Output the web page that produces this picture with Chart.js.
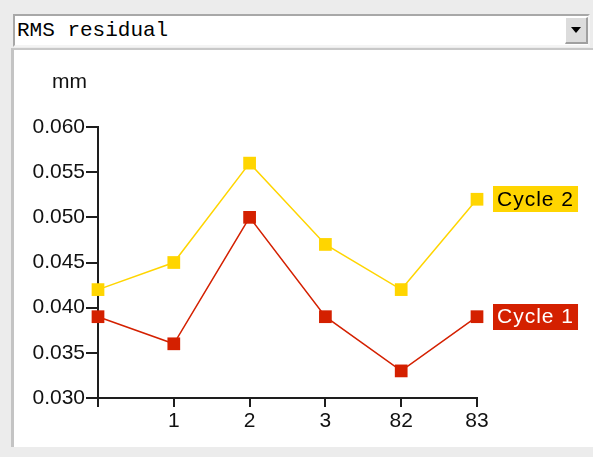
<!DOCTYPE html>
<html lang="en">
  <head>
    <meta charset="UTF-8" />
    <title>RMS residual</title>
    <script src="https://cdn.jsdelivr.net/npm/chart.js"></script>
    <style>
      * {
        margin: 0;
        padding: 0;
        box-sizing: border-box;
      }

      body {
        width: 593px;
        height: 457px;
        background-color: #ececec;
        position: relative;
        overflow: hidden;
      }

      .dropdown {
        position: absolute;
        left: 13px;
        top: 14px;
        width: 577px;
        height: 33px;
        background: #ffffff;
        border-top: 2px solid #a8a8a8;
        border-left: 2px solid #a8a8a8;
        border-right: 2px solid #f4f4f4;
        border-bottom: 2px solid #f4f4f4;
        font-family: "Liberation Mono", monospace;
        font-size: 21px;
        line-height: 29px;
        padding-left: 2px;
        color: #000;
      }

      .dropdown .arrow {
        position: absolute;
        right: 0;
        top: 1px;
        width: 23px;
        height: 27px;
        background: #dcdcdc;
        border-right: 2px solid #a0a0a0;
        border-bottom: 2px solid #a0a0a0;
        border-top: 1px solid #fff;
        border-left: 1px solid #fff;
      }

      .dropdown .arrow::after {
        content: "";
        position: absolute;
        left: 5px;
        top: 9px;
        border-left: 5px solid transparent;
        border-right: 5px solid transparent;
        border-top: 6px solid #000;
      }

      .panel {
        position: absolute;
        left: 11px;
        top: 48px;
        width: 582px;
        height: 399px;
        background: #ffffff;
        border-left: 3px solid #c4c4c4;
        border-top: 2px solid #c8c8c8;
      }

      #chart {
        position: absolute;
        left: 0;
        top: 0;
      }
    </style>
  </head>
  <body>
    <div class="dropdown">RMS residual<div class="arrow"></div></div>
    <div class="panel"></div>
    <canvas id="chart" width="593" height="457"></canvas>

    <script>
      const categories = ["", "1", "2", "3", "82", "83"];
      const cycle1 = [0.039, 0.036, 0.05, 0.039, 0.033, 0.039];
      const cycle2 = [0.042, 0.045, 0.056, 0.047, 0.042, 0.052];
      const yTicks = { min: 0.03, max: 0.06, step: 0.005 };

      const RED = "#d42000";
      const YELLOW = "#ffd500";
      const AXIS = "#1e1e1e";
      const FONT = "'Liberation Sans', Arial, sans-serif";

      // series tags at the end of each line + the "mm" unit label
      const tagPlugin = {
        id: "tags",
        afterDatasetsDraw(chart) {
          const ctx = chart.ctx;
          const area = chart.chartArea;
          ctx.save();
          ctx.font = "21px " + FONT;
          ctx.textBaseline = "middle";
          ctx.fillStyle = "#111";
          ctx.textAlign = "right";
          ctx.fillText("mm", 87, area.top - 45);

          ctx.textAlign = "left";
          ctx.letterSpacing = "1px";
          chart.data.datasets.forEach((ds, i) => {
            const meta = chart.getDatasetMeta(i);
            const pt = meta.data[meta.data.length - 1];
            const x = area.right + 16;
            const h = 26;
            const w = ctx.measureText(ds.label).width + 8;
            ctx.fillStyle = ds.tagColor;
            ctx.fillRect(x, Math.round(pt.y - h / 2), w, h);
            ctx.fillStyle = ds.tagText;
            ctx.fillText(ds.label, x + 4, pt.y + 1);
          });
          ctx.restore();
        },
      };

      new Chart(document.getElementById("chart"), {
        type: "line",
        data: {
          labels: categories,
          datasets: [
            {
              label: "Cycle 2",
              data: cycle2,
              borderColor: YELLOW,
              backgroundColor: YELLOW,
              tagColor: YELLOW,
              tagText: "#000",
              borderWidth: 1.5,
              pointStyle: "rect",
              pointRadius: 9,
              pointBorderWidth: 0,
              tension: 0,
            },
            {
              label: "Cycle 1",
              data: cycle1,
              borderColor: RED,
              backgroundColor: RED,
              tagColor: RED,
              tagText: "#fff",
              borderWidth: 1.5,
              pointStyle: "rect",
              pointRadius: 9,
              pointBorderWidth: 0,
              tension: 0,
            },
          ],
        },
        options: {
          responsive: false,
          animation: false,
          clip: false,
          layout: {
            padding: { left: 0, top: 127, right: 116, bottom: 0 },
          },
          plugins: {
            legend: { display: false },
            tooltip: { enabled: false },
          },
          scales: {
            x: {
              type: "category",
              offset: false,
              grid: {
                display: true,
                drawOnChartArea: false,
                drawTicks: true,
                tickLength: 9,
                color: AXIS,
                lineWidth: 2,
              },
              border: { display: true, color: AXIS, width: 2 },
              ticks: {
                color: "#111",
                font: { family: FONT, size: 21 },
                padding: 2,
                autoSkip: false,
                maxRotation: 0,
              },
              afterFit(scale) {
                scale.height = 59;
              },
            },
            y: {
              min: yTicks.min,
              max: yTicks.max,
              grid: {
                display: true,
                drawOnChartArea: false,
                drawTicks: true,
                tickLength: 12,
                color: AXIS,
                lineWidth: 2,
              },
              border: { display: true, color: AXIS, width: 2 },
              ticks: {
                stepSize: yTicks.step,
                color: "#111",
                font: { family: FONT, size: 21 },
                padding: 1,
                callback: (v) => v.toFixed(3),
              },
              afterFit(scale) {
                scale.width = 98;
              },
            },
          },
        },
        plugins: [tagPlugin],
      });
    </script>
  </body>
</html>
